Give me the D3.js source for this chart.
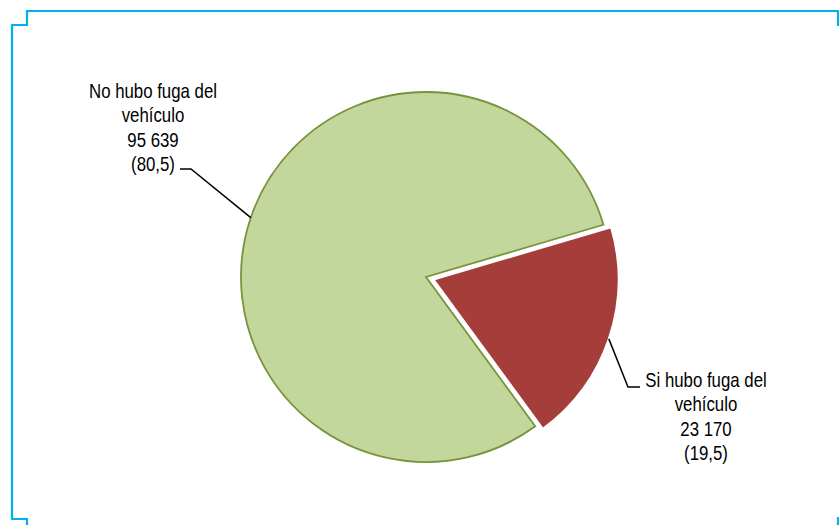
<!DOCTYPE html>
<html>
<head>
<meta charset="utf-8">
<script src="https://cdn.jsdelivr.net/npm/d3@7"></script>
<style>
  html, body { margin: 0; padding: 0; background: #ffffff; }
  svg { display: block; }
  text { font-family: "Liberation Sans", Arial, sans-serif; fill: #000; }
</style>
</head>
<body>
<svg id="chart" width="839" height="525"></svg>
<script>
// ---- Data ----
const categories = ["No hubo fuga del vehículo", "Si hubo fuga del vehículo"];
const labelLines = [["No hubo fuga del", "vehículo"], ["Si hubo fuga del", "vehículo"]];
const values = [95639, 23170];
const percents = ["80,5", "19,5"];
const valueLabels = ["95 639", "23 170"];
const colors = ["#c3d69b", "#a53d3b"];
const strokes = ["#77933c", "#ffffff"];
const exploded = [false, true];

// ---- Layout ----
const W = 839, H = 525;
const cx = 426, cy = 277, R = 185;
const startDeg = 143.8;
const explodeDist = 8;
const fontSize = 20.5, lineH = 24.6, condense = 0.82;
// label anchors (center x, first baseline y), and leader elbow
const labelLayout = [
  { x: 153, y: 97.5, elbow: [191, 169], end: [180, 169] },
  { x: 706, y: 386.5, elbow: [628, 387], end: [640, 387] }
];

const svg = d3.select("#chart");

// frame
const frameColor = "#00b0f0";
const frame = svg.append("g").attr("fill", "none").attr("stroke", frameColor).attr("stroke-width", 2.2);
frame.append("path").attr("d", d3.line()([[27, 525], [27, 519], [12, 519], [12, 25], [27, 25], [27, 11], [838, 11], [838, 26]]));
frame.append("path").attr("d", d3.line()([[838, 517], [838, 525]]));

const pie = d3.pie().sort(null).value(d => d)
  .startAngle(startDeg * Math.PI / 180)
  .endAngle(startDeg * Math.PI / 180 + 2 * Math.PI);
const arcs = pie(values);
const arc = d3.arc().innerRadius(0).outerRadius(R);

const g = svg.append("g").attr("transform", `translate(${cx},${cy})`);

function offsetOf(d, i) {
  if (!exploded[i]) return [0, 0];
  const m = (d.startAngle + d.endAngle) / 2;
  return [Math.sin(m) * explodeDist, -Math.cos(m) * explodeDist];
}

g.selectAll("path.slice").data(arcs).enter().append("path")
  .attr("class", "slice")
  .attr("d", arc)
  .attr("transform", (d, i) => { const o = offsetOf(d, i); return `translate(${o[0]},${o[1]})`; })
  .attr("fill", (d, i) => colors[i])
  .attr("stroke", (d, i) => strokes[i])
  .attr("stroke-width", (d, i) => exploded[i] ? 2 : 1.8)
  .attr("stroke-linejoin", "miter");

// leaders
arcs.forEach((d, i) => {
  const o = offsetOf(d, i);
  const m = (d.startAngle + d.endAngle) / 2;
  const p0 = [cx + o[0] + Math.sin(m) * R, cy + o[1] - Math.cos(m) * R];
  const L = labelLayout[i];
  svg.append("path")
    .attr("d", d3.line()([p0, L.elbow, L.end]))
    .attr("fill", "none").attr("stroke", "#000").attr("stroke-width", 1.5);
});

// labels
arcs.forEach((d, i) => {
  const L = labelLayout[i];
  const lines = [...labelLines[i], valueLabels[i], "(" + percents[i] + ")"];
  const t = svg.append("text").attr("text-anchor", "middle").attr("font-size", fontSize)
    .attr("transform", `translate(${L.x},${L.y}) scale(${condense},1)`);
  lines.forEach((ln, k) => {
    t.append("tspan").attr("x", 0).attr("y", k * lineH).text(ln);
  });
});
</script>
</body>
</html>
